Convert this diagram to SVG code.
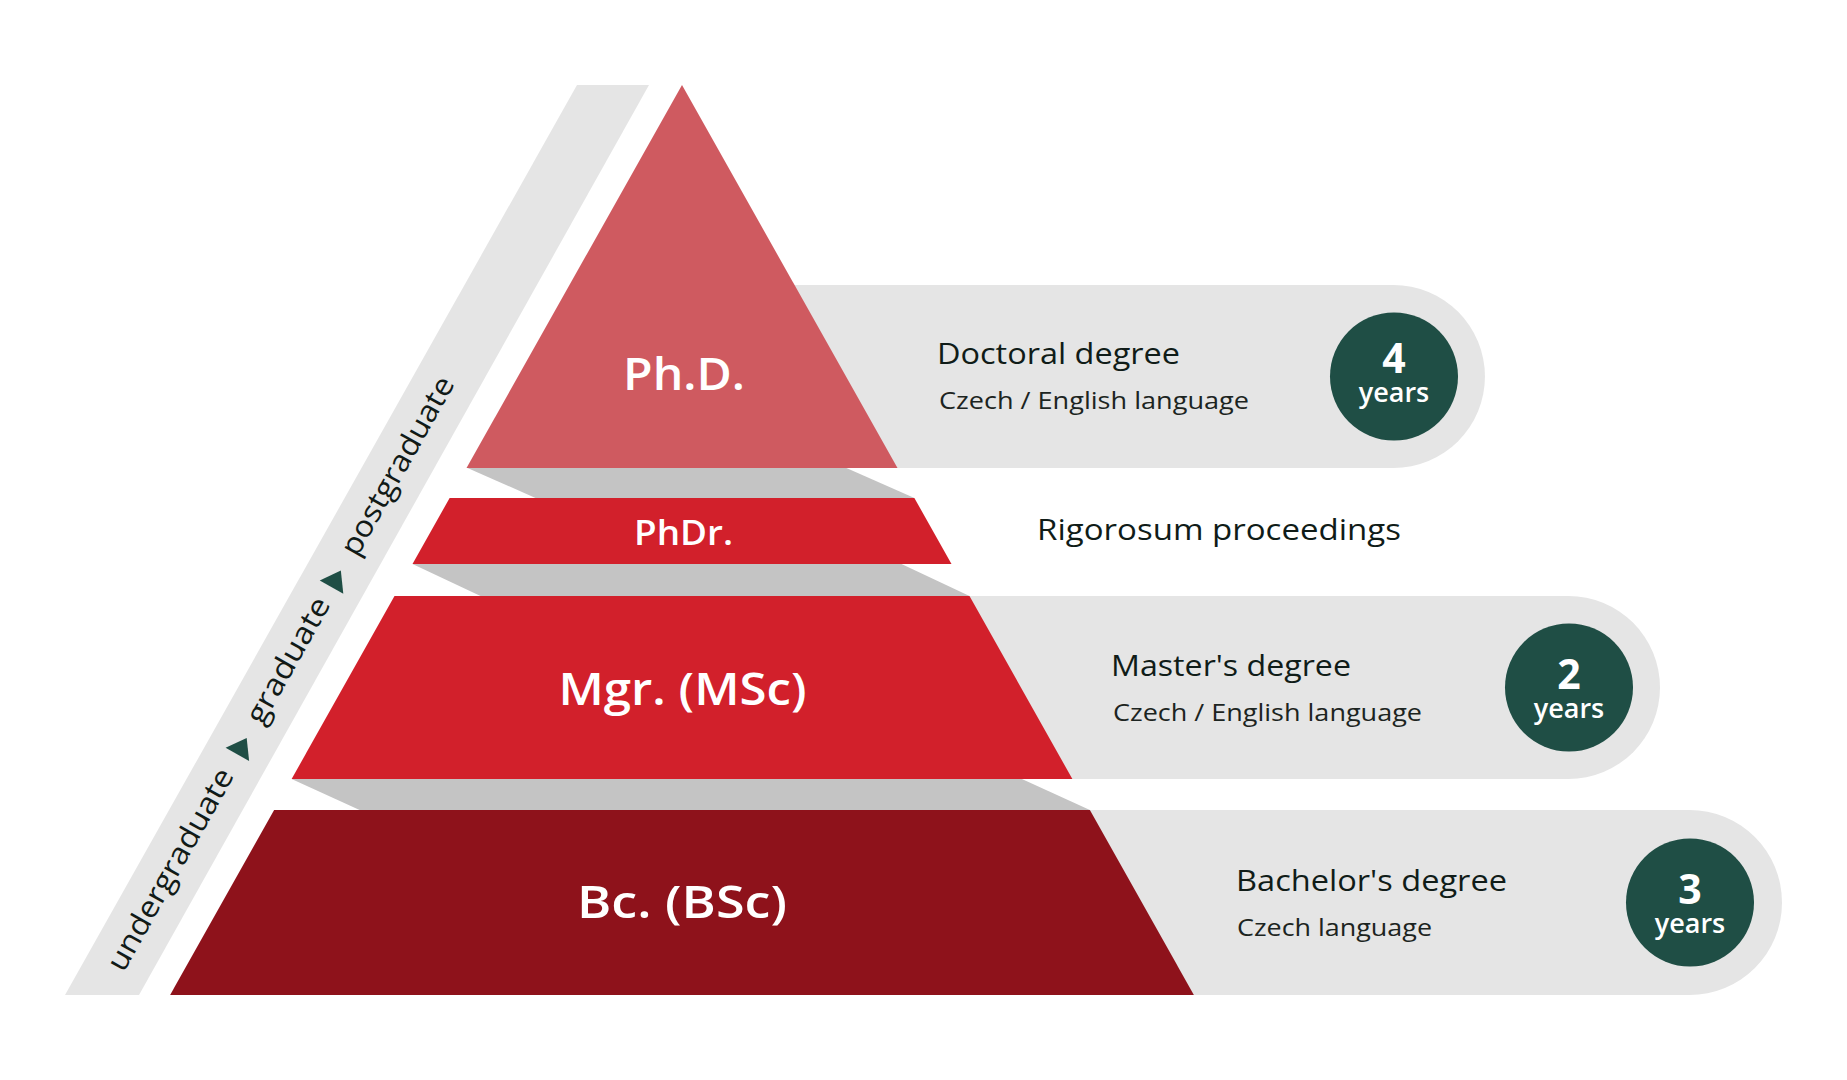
<svg xmlns="http://www.w3.org/2000/svg" width="1847" height="1080" viewBox="0 0 1847 1080">
<style>
  .pill { fill: #e5e5e5; }
  .shadow { fill: #c4c4c4; }
  .lbl { font-family: "Open Sans", "Liberation Sans", sans-serif; font-weight: 600; fill: #ffffff; text-anchor: middle; }
  .ttl { font-family: "Open Sans", "Liberation Sans", sans-serif; font-weight: 500; fill: #101c18; font-size: 29px; }
  .sub { font-family: "Open Sans", "Liberation Sans", sans-serif; font-weight: 400; fill: #1c2421; font-size: 24px; }
  .yr-c { fill: #1f4e45; }
  .dur { font-family: "Open Sans", "Liberation Sans", sans-serif; fill: #ffffff; text-anchor: middle; }
  .num { font-weight: 700; font-size: 41px; }
  .yrs { font-weight: 600; font-size: 27px; }
  .band-t { font-family: "Open Sans", "Liberation Sans", sans-serif; font-weight: 400; fill: #111a17; font-size: 30px; text-anchor: middle; }
</style>
<rect width="1847" height="1080" fill="#ffffff"/>

<g id="level-band">
  <polygon points="577,85 649,85 139,995 65,995" fill="#e5e5e5"/>
  <g transform="translate(102,995) rotate(-60.63)">
    <text class="band-t" x="143" y="8" textLength="227" lengthAdjust="spacingAndGlyphs">undergraduate</text>
    <polygon points="276,-13.5 295,0 276,13.5" fill="#1f4e45"/>
    <text class="band-t" x="383" y="8" textLength="140" lengthAdjust="spacingAndGlyphs">graduate</text>
    <polygon points="468,-13.5 487,0 468,13.5" fill="#1f4e45"/>
    <text class="band-t" x="606" y="8" textLength="200" lengthAdjust="spacingAndGlyphs">postgraduate</text>
  </g>
</g>

<g id="pills">
  <path class="pill" d="M700,285 H1393.5 A91.5,91.5 0 0 1 1393.5,468 H700 Z"/>
  <path class="pill" d="M700,596 H1568.5 A91.5,91.5 0 0 1 1568.5,779 H700 Z"/>
  <path class="pill" d="M700,810 H1689.5 A92.5,92.5 0 0 1 1689.5,995 H700 Z"/>
</g>

<g id="connectors">
  <polygon class="shadow" points="467.5,468 846.4,468 914.4,498 535.5,498"/>
  <polygon class="shadow" points="412.5,564 901.5,564 969.5,596 480.5,596"/>
  <polygon class="shadow" points="291.6,779 1021.9,779 1089.9,810 359.6,810"/>
</g>

<g id="phd">
  <polygon points="682,85 897.5,468 466.5,468" fill="#cf5a60"/>
  <text class="lbl" x="684" y="390" font-size="45" textLength="122" lengthAdjust="spacingAndGlyphs">Ph.D.</text>
</g>

<g id="phdr">
  <polygon points="449.6,498 914.4,498 951.5,564 412.5,564" fill="#d2202b"/>
  <text class="lbl" x="683.5" y="545" font-size="35" textLength="99" lengthAdjust="spacingAndGlyphs">PhDr.</text>
</g>

<g id="mgr">
  <polygon points="394.5,596 969.5,596 1072.4,779 291.6,779" fill="#d2202b"/>
  <text class="lbl" x="682.5" y="705" font-size="45" textLength="248" lengthAdjust="spacingAndGlyphs">Mgr. (MSc)</text>
</g>

<g id="bc">
  <polygon points="274.1,810 1089.9,810 1193.9,995 170.1,995" fill="#8e121b"/>
  <text class="lbl" x="682" y="918" font-size="45" textLength="210" lengthAdjust="spacingAndGlyphs">Bc. (BSc)</text>
</g>

<g id="doctoral">
  <text class="ttl" x="937" y="364" textLength="243" lengthAdjust="spacingAndGlyphs">Doctoral degree</text>
  <text class="sub" x="939" y="409" textLength="310" lengthAdjust="spacingAndGlyphs">Czech / English language</text>
  <circle class="yr-c" cx="1394" cy="376.5" r="64"/>
  <text class="dur"><tspan class="num" x="1394" y="373">4</tspan><tspan class="yrs" x="1394" y="402">years</tspan></text>
</g>

<g id="rigorosum">
  <text class="ttl" x="1037" y="540" textLength="364" lengthAdjust="spacingAndGlyphs">Rigorosum proceedings</text>
</g>

<g id="masters">
  <text class="ttl" x="1111" y="676" textLength="240" lengthAdjust="spacingAndGlyphs">Master's degree</text>
  <text class="sub" x="1113" y="721" textLength="309" lengthAdjust="spacingAndGlyphs">Czech / English language</text>
  <circle class="yr-c" cx="1569" cy="687.5" r="64"/>
  <text class="dur"><tspan class="num" x="1569" y="689">2</tspan><tspan class="yrs" x="1569" y="718">years</tspan></text>
</g>

<g id="bachelors">
  <text class="ttl" x="1236" y="891" textLength="271" lengthAdjust="spacingAndGlyphs">Bachelor's degree</text>
  <text class="sub" x="1237" y="936" textLength="195" lengthAdjust="spacingAndGlyphs">Czech language</text>
  <circle class="yr-c" cx="1690" cy="902.5" r="64"/>
  <text class="dur"><tspan class="num" x="1690" y="904">3</tspan><tspan class="yrs" x="1690" y="933">years</tspan></text>
</g>
</svg>
